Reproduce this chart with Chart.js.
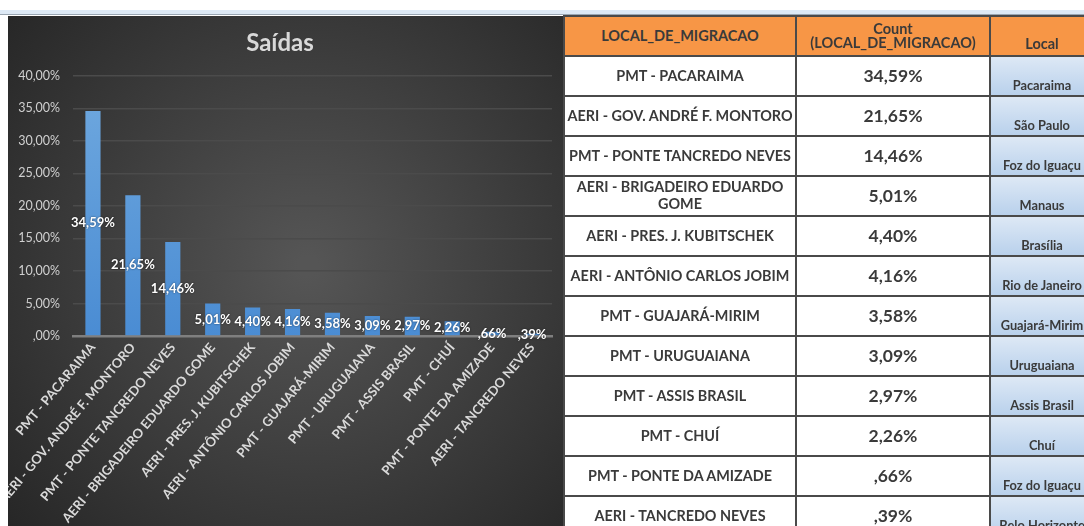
<!DOCTYPE html>
<html>
<head>
<meta charset="utf-8">
<script src="https://cdn.jsdelivr.net/npm/chart.js@4.4.0/dist/chart.umd.min.js"></script>
<style>
  html, body { margin: 0; padding: 0; width: 1084px; height: 526px; overflow: hidden; background: #fff; font-family: Lato, "Open Sans", sans-serif; }
  #strip { position: absolute; left: 0; top: 10px; width: 1084px; height: 4px; background: #dde9f5; border-bottom: 1px solid #9aa6b2; }
  #chartBox { position: absolute; left: 8px; top: 16px; width: 556px; height: 510px; }
  #tbl { position: absolute; left: 563px; top: 15px; width: 540px; }
  table { border-collapse: collapse; table-layout: fixed; width: 530px; color: #3a3a3a; }
  td { border: 2px solid #4a4a4a; padding: 0; text-align: center; font-weight: bold; box-sizing: border-box; height: 40px; line-height: 1.15; overflow: hidden; }
  td.c1 { width: 232px; font-size: 14.4px; }
  td.c2 { width: 194px; font-size: 17.5px; }
  td.c3 { width: 104px; font-size: 12.8px; vertical-align: bottom; padding-bottom: 2px; white-space: nowrap;
          background: linear-gradient(#dde8f5, #b9d1ec); }
  tr.head td { background: #f79646; font-size: 14.5px; }
  tr.head td.c2 { font-size: 14.5px; line-height: 1.0; }
</style>
</head>
<body>
<div id="strip"></div>
<div id="chartBox"><canvas id="chart"></canvas></div>
<div id="tbl"></div>
<script>
const categorias = [
  'PMT - PACARAIMA', 'AERI - GOV. ANDRÉ F. MONTORO', 'PMT - PONTE TANCREDO NEVES',
  'AERI - BRIGADEIRO EDUARDO GOME', 'AERI - PRES. J. KUBITSCHEK', 'AERI - ANTÔNIO CARLOS JOBIM',
  'PMT - GUAJARÁ-MIRIM', 'PMT - URUGUAIANA', 'PMT - ASSIS BRASIL', 'PMT - CHUÍ',
  'PMT - PONTE DA AMIZADE', 'AERI - TANCREDO NEVES'
]
const percentuais = [34.59, 21.65, 14.46, 5.01, 4.40, 4.16, 3.58, 3.09, 2.97, 2.26, 0.66, 0.39]
const locais = [
  'Pacaraima', 'São Paulo', 'Foz do Iguaçu', 'Manaus', 'Brasília', 'Rio de Janeiro',
  'Guajará-Mirim', 'Uruguaiana', 'Assis Brasil', 'Chuí', 'Foz do Iguaçu', 'Belo Horizonte'
]
const colunas = ['LOCAL_DE_MIGRACAO', 'Count<br>(LOCAL_DE_MIGRACAO)', 'Local']
const titulo = 'Saídas'

// excel style "0,00%" without the leading zero
const fmtPct = (v) => {
  let s = v.toFixed(2).replace('.', ',')
  if (s.startsWith('0')) s = s.slice(1)
  return s + '%'
}

// table on the right
let html = '<table><tr class="head">' +
  '<td class="c1">' + colunas[0] + '</td>' +
  '<td class="c2">' + colunas[1] + '</td>' +
  '<td class="c3" style="background:#f79646">' + colunas[2] + '</td></tr>'
categorias.forEach((c, i) => {
  html += '<tr><td class="c1">' + c + '</td><td class="c2">' + fmtPct(percentuais[i]) +
    '</td><td class="c3">' + locais[i] + '</td></tr>'
})
html += '</table>'
document.getElementById('tbl').innerHTML = html

const bgPlugin = {
  id: 'bg',
  beforeDraw(chart) {
    const { ctx, width, height } = chart
    const g = ctx.createRadialGradient(300, 250, 10, 300, 250, 400)
    g.addColorStop(0, '#555555')
    g.addColorStop(1, '#262626')
    ctx.save()
    ctx.fillStyle = g
    ctx.fillRect(0, 0, width, height)
    ctx.restore()
  }
}

const labelPlugin = {
  id: 'barLabels',
  afterDatasetsDraw(chart) {
    const { ctx } = chart
    const meta = chart.getDatasetMeta(0)
    ctx.save()
    ctx.font = 'bold 13px Lato'
    ctx.fillStyle = '#ffffff'
    ctx.textAlign = 'center'
    ctx.textBaseline = 'middle'
    ctx.shadowColor = 'rgba(0,0,0,0.6)'
    ctx.shadowBlur = 2
    meta.data.forEach((bar, i) => {
      const y = (bar.y + bar.base) / 2
      ctx.fillText(fmtPct(percentuais[i]), bar.x, y)
    })
    ctx.restore()
  }
}

new Chart(document.getElementById('chart'), {
  type: 'bar',
  data: {
    labels: categorias,
    datasets: [{
      data: percentuais,
      backgroundColor: (c) => {
        const area = c.chart.chartArea
        if (!area) return '#5b9bd5'
        const g = c.chart.ctx.createLinearGradient(0, area.top, 0, area.bottom)
        g.addColorStop(0, '#70a9df')
        g.addColorStop(1, '#4a8cd3')
        return g
      },
      barPercentage: 0.38,
      categoryPercentage: 1
    }]
  },
  plugins: [bgPlugin, labelPlugin],
  options: {
    responsive: true,
    maintainAspectRatio: false,
    animation: false,
    layout: { padding: { top: 0, right: 12, bottom: 0, left: 0 } },
    plugins: {
      legend: { display: false },
      tooltip: { enabled: false },
      title: {
        display: true,
        text: titulo,
        color: '#d9d9d9',
        font: { family: 'Lato', size: 24, weight: 'bold' },
        padding: { top: 13, bottom: 18 }
      }
    },
    scales: {
      y: {
        min: 0,
        max: 40,
        ticks: {
          stepSize: 5,
          padding: 13,
          color: '#d0d0d0',
          font: { family: 'Lato', size: 12.5 },
          callback: (v) => v === 0 ? ',00%' : v.toFixed(2).replace('.', ',') + '%'
        },
        grid: { color: '#4b4b4b', lineWidth: 1.5, drawTicks: false },
        border: { display: false },
        afterFit: (s) => { s.width = 65 }
      },
      x: {
        ticks: {
          autoSkip: false,
          maxRotation: 50,
          minRotation: 50,
          padding: 4,
          color: '#d9d9d9',
          font: { family: 'Lato', size: 13, weight: 'bold' }
        },
        grid: { display: false, drawTicks: false },
        border: { color: '#7f7f7f', width: 2.5 },
        afterFit: (s) => { s.height = 190 }
      }
    }
  }
})
</script>
</body>
</html>
